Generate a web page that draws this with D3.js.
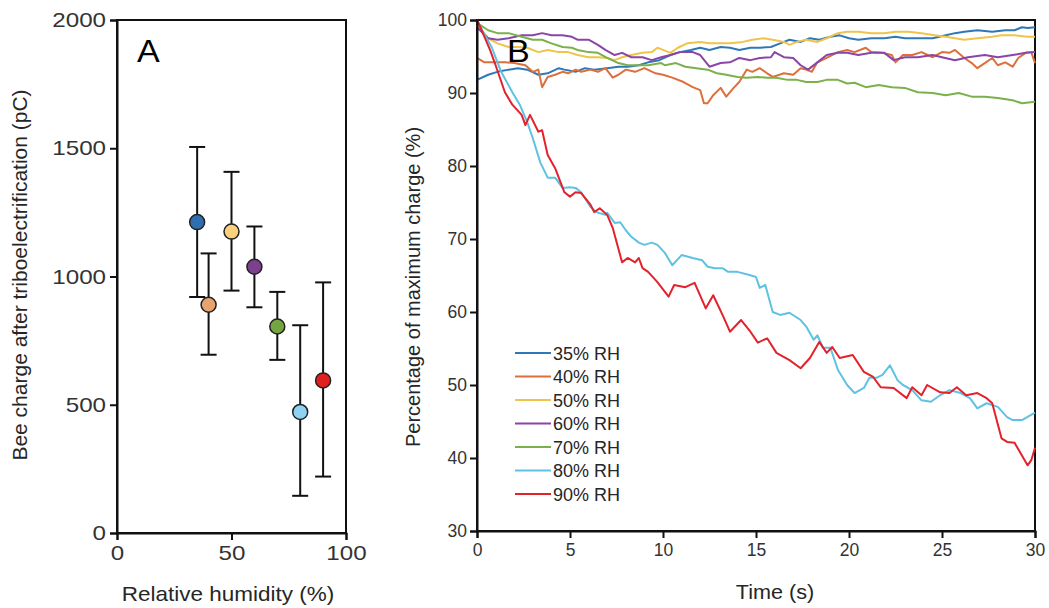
<!DOCTYPE html>
<html>
<head>
<meta charset="utf-8">
<script src="https://cdn.jsdelivr.net/npm/d3@7"></script>
<style>
  body { margin: 0; background: #fff; }
  text { font-family: "Liberation Sans", Arial, sans-serif; fill: #262626; }
  .axis path, .axis line { stroke: #111; stroke-width: 2; }
  .axis text { fill: #333; }
</style>
</head>
<body>
<div id="chart"></div>
<script>
// ---- panel A data ----
var humidity = [35, 40, 50, 60, 70, 80, 90];
var chargeMean = [1212, 890, 1175, 1038, 805, 472, 595];
var chargeUpper = [1505, 1090, 1408, 1195, 940, 810, 977];
var chargeLower = [920, 695, 945, 880, 675, 145, 220];
var pointColors = ["#2f6fb0", "#e8a46f", "#fbd27a", "#7d3f8f", "#75a542", "#8ed3ef", "#e01f1f"];

// ---- panel B data ----
var seriesNames = ["35% RH", "40% RH", "50% RH", "60% RH", "70% RH", "80% RH", "90% RH"];
var lineColors = ["#2e78b8", "#dd6f3b", "#f0c34a", "#8a45a6", "#7bb14a", "#5fc2e2", "#e3222b"];

var t35 = [0, 0.6, 1.1, 1.7, 2.2, 2.7, 3.3, 3.8, 4.4, 4.7, 5.3, 5.8, 6.3, 7.0, 7.6, 8.1, 8.7, 9.2, 9.8, 10.4, 10.9, 11.5, 12.0, 12.5, 13.1, 13.6, 14.1, 14.7, 15.2, 15.8, 16.3, 16.8, 17.4, 17.9, 18.4, 19.0, 19.5, 20.0, 20.5, 21.2, 21.9, 22.5, 23.0, 23.7, 24.5, 25.2, 25.7, 26.2, 26.9, 27.7, 28.4, 28.9, 29.3, 29.6, 30];
var v35 = [91.8, 92.5, 92.9, 93.2, 93.4, 93.2, 92.5, 92.7, 93.4, 93.2, 92.9, 93.4, 93.2, 93.4, 93.6, 93.6, 93.8, 94.2, 94.5, 95.2, 95.6, 95.9, 96.2, 95.9, 96.3, 96.2, 95.9, 96.2, 96.2, 96.3, 96.8, 97.3, 97.0, 97.5, 97.3, 97.7, 97.9, 97.5, 97.3, 97.5, 97.5, 97.7, 97.5, 97.5, 97.5, 97.9, 98.2, 98.4, 98.6, 98.4, 98.6, 98.6, 99.0, 98.9, 99.0];

var t40 = [0, 0.4, 1.0, 1.5, 2.0, 2.6, 3.0, 3.3, 3.5, 3.8, 4.2, 4.6, 4.9, 5.3, 5.6, 6.1, 6.5, 6.9, 7.3, 7.6, 8.0, 8.5, 9.0, 9.6, 10.0, 10.5, 11.1, 11.6, 12.0, 12.2, 12.4, 12.7, 13.1, 13.4, 13.8, 14.1, 14.5, 14.8, 15.2, 15.6, 15.9, 16.5, 17.0, 17.4, 17.7, 18.0, 18.3, 18.8, 19.4, 19.9, 20.3, 20.9, 21.2, 21.8, 22.3, 22.5, 22.9, 23.4, 23.9, 24.5, 25.0, 25.4, 25.7, 26.2, 26.6, 26.9, 27.3, 27.7, 28.0, 28.4, 28.8, 29.1, 29.5, 29.8, 30];
var v40 = [94.8, 94.2, 94.2, 94.2, 94.1, 93.8, 92.9, 93.2, 90.8, 92.2, 92.5, 92.9, 92.7, 93.2, 92.9, 93.2, 92.9, 93.4, 92.1, 92.5, 93.2, 92.9, 93.4, 92.7, 92.5, 92.1, 91.5, 90.8, 90.4, 88.6, 88.6, 89.7, 90.7, 89.5, 90.7, 91.5, 93.2, 92.9, 93.4, 92.7, 92.2, 92.7, 92.5, 93.4, 93.2, 92.9, 94.2, 94.8, 95.6, 95.9, 95.6, 96.2, 95.6, 95.5, 95.2, 94.2, 95.2, 95.2, 95.6, 94.9, 95.6, 95.5, 95.9, 94.8, 94.1, 93.4, 94.1, 94.8, 93.8, 94.2, 93.6, 94.8, 95.5, 95.6, 94.1];

var t50 = [0, 0.6, 1.1, 1.7, 2.2, 2.7, 3.3, 3.8, 4.4, 4.9, 5.4, 6.0, 6.5, 7.0, 7.4, 7.8, 8.3, 8.9, 9.4, 9.7, 10.0, 10.4, 10.8, 11.3, 12.0, 12.5, 13.1, 13.6, 14.3, 14.8, 15.4, 15.9, 16.5, 16.8, 17.2, 17.7, 18.3, 18.8, 19.4, 19.9, 20.5, 21.2, 21.9, 22.5, 23.2, 23.9, 24.6, 25.2, 25.7, 26.2, 26.9, 27.7, 28.2, 28.9, 29.6, 30];
var v50 = [99.3, 97.5, 96.8, 96.3, 96.3, 96.2, 95.6, 95.9, 95.6, 95.6, 95.2, 94.9, 94.9, 94.8, 94.5, 94.9, 95.2, 95.5, 95.6, 96.2, 95.9, 95.5, 96.2, 96.8, 97.0, 96.8, 96.8, 96.8, 97.0, 97.3, 97.5, 97.3, 97.0, 96.6, 97.0, 97.3, 97.0, 97.5, 98.2, 98.4, 98.4, 98.2, 98.2, 98.4, 98.4, 98.2, 97.9, 97.7, 97.5, 97.3, 97.5, 97.7, 97.9, 97.9, 97.7, 97.7];

var t60 = [0, 0.6, 1.1, 1.7, 2.4, 3.0, 3.5, 4.0, 4.6, 5.1, 5.4, 6.0, 6.5, 6.9, 7.4, 7.8, 8.3, 8.9, 9.4, 9.9, 10.4, 10.9, 11.6, 12.0, 12.5, 13.1, 13.6, 14.1, 14.7, 15.2, 15.8, 16.0, 16.5, 17.0, 17.4, 17.8, 18.3, 18.8, 19.4, 19.9, 20.5, 21.2, 21.9, 22.4, 23.0, 23.7, 24.5, 25.0, 25.7, 26.4, 27.3, 28.0, 28.8, 29.5, 30];
var v60 = [99.0, 97.5, 97.3, 97.5, 97.9, 97.9, 98.2, 97.9, 97.9, 97.7, 97.3, 97.3, 96.6, 95.9, 95.2, 95.5, 94.9, 94.9, 94.5, 94.9, 95.2, 95.6, 95.6, 95.2, 93.6, 94.1, 94.2, 94.8, 94.5, 94.8, 94.9, 95.6, 94.9, 94.8, 93.8, 93.2, 94.2, 95.2, 95.5, 95.5, 95.2, 95.5, 95.5, 94.5, 94.9, 94.9, 95.2, 94.9, 94.5, 94.9, 95.2, 94.9, 95.2, 95.5, 95.6];

var t70 = [0, 0.6, 1.1, 1.7, 2.4, 3.0, 3.5, 4.0, 4.6, 5.1, 5.4, 6.0, 6.5, 7.0, 7.6, 8.1, 8.7, 9.2, 9.9, 10.1, 10.7, 11.2, 11.8, 12.4, 12.9, 13.4, 14.0, 14.5, 15.1, 15.6, 16.1, 16.7, 17.2, 17.7, 18.3, 18.8, 19.4, 19.9, 20.3, 20.9, 21.6, 22.3, 23.0, 23.7, 24.5, 25.2, 25.9, 26.6, 27.3, 28.0, 28.8, 29.3, 30];
var v70 = [99.6, 98.6, 98.2, 98.2, 97.7, 97.3, 97.3, 96.8, 96.3, 96.2, 95.9, 95.6, 95.5, 94.8, 94.1, 93.8, 93.8, 93.8, 94.1, 93.8, 94.1, 93.6, 93.4, 93.2, 92.7, 92.5, 92.2, 92.1, 92.2, 92.1, 92.1, 91.8, 91.8, 91.5, 91.5, 91.8, 91.8, 91.3, 91.4, 90.8, 91.1, 90.8, 90.7, 90.1, 90.0, 89.7, 90.0, 89.5, 89.5, 89.3, 89.0, 88.6, 88.8];

var t80 = [0, 0.2, 0.8, 1.3, 1.9, 2.3, 2.7, 3.0, 3.4, 3.8, 4.2, 4.6, 5.0, 5.3, 5.6, 6.1, 6.4, 6.9, 7.0, 7.4, 7.7, 8.0, 8.3, 8.7, 9.0, 9.4, 9.7, 10.1, 10.5, 11.0, 11.6, 12.1, 12.4, 12.8, 13.2, 13.5, 14.0, 14.6, 15.0, 15.2, 15.5, 15.9, 16.3, 16.8, 17.4, 17.7, 18.1, 18.3, 18.6, 19.0, 19.4, 19.9, 20.3, 20.8, 21.1, 21.5, 21.8, 22.2, 22.6, 22.9, 23.4, 23.9, 24.4, 24.9, 25.4, 26.0, 26.5, 26.9, 27.4, 28.0, 28.5, 28.8, 29.3, 30];
var v80 = [100, 99.0, 96.2, 92.9, 90.1, 88.4, 86.0, 83.8, 80.5, 78.4, 78.4, 77.0, 77.1, 77.0, 76.4, 74.4, 73.7, 73.3, 73.6, 72.2, 72.3, 71.2, 70.3, 69.5, 69.2, 69.5, 69.2, 68.1, 66.4, 67.8, 67.4, 67.1, 66.2, 66.0, 66.0, 65.5, 65.5, 65.1, 64.8, 63.3, 63.7, 60.0, 59.6, 59.9, 58.9, 58.0, 56.2, 56.8, 55.1, 55.1, 52.1, 50.0, 48.9, 49.6, 51.0, 51.0, 51.4, 52.7, 50.7, 50.0, 49.3, 47.9, 47.7, 48.6, 49.3, 48.9, 48.2, 46.8, 47.5, 47.0, 45.6, 45.2, 45.2, 46.2];

var t90 = [0, 0.2, 0.7, 1.0, 1.5, 1.9, 2.4, 2.6, 2.85, 3.3, 3.5, 3.8, 4.2, 4.7, 5.0, 5.3, 5.6, 6.1, 6.3, 6.6, 7.0, 7.3, 7.8, 8.1, 8.5, 8.7, 8.9, 9.2, 9.7, 10.3, 10.6, 11.2, 11.7, 12.3, 12.7, 13.2, 13.6, 14.2, 14.7, 15.1, 15.6, 16.1, 16.8, 17.4, 17.9, 18.4, 18.8, 19.1, 19.5, 20.2, 20.8, 21.3, 21.7, 22.4, 23.1, 23.4, 23.9, 24.2, 24.9, 25.4, 25.8, 26.3, 26.9, 27.4, 27.7, 28.2, 28.5, 28.9, 29.6, 29.8, 30];
var v90 = [100, 98.9, 95.9, 93.8, 90.1, 88.4, 87.0, 85.6, 87.0, 84.7, 84.9, 81.5, 79.7, 76.4, 75.8, 76.4, 76.3, 74.7, 73.7, 74.2, 73.3, 71.5, 66.8, 67.4, 66.8, 67.4, 66.0, 65.5, 64.1, 62.1, 63.7, 63.4, 64.0, 60.5, 62.3, 59.6, 57.3, 58.9, 57.3, 55.8, 56.4, 54.4, 53.4, 52.3, 53.7, 55.9, 54.4, 55.2, 53.7, 54.1, 51.8, 51.1, 49.7, 49.6, 48.2, 49.7, 48.6, 50.0, 49.0, 48.9, 49.7, 48.6, 48.9, 48.2, 47.5, 42.7, 42.2, 42.1, 39.0, 39.7, 41.4];

var seriesTimes = [t35, t40, t50, t60, t70, t80, t90];
var seriesValues = [v35, v40, v50, v60, v70, v80, v90];

var ticksA_x = [0, 50, 100];
var ticksA_y = [0, 500, 1000, 1500, 2000];
var ticksB_x = [0, 5, 10, 15, 20, 25, 30];
var ticksB_y = [30, 40, 50, 60, 70, 80, 90, 100];

// widen text a bit, the source figure is drawn slightly stretched
function stretch(sel, f) {
    sel.each(function() {
        var len = this.getComputedTextLength();
        d3.select(this)
            .attr("textLength", len * f)
            .attr("lengthAdjust", "spacingAndGlyphs");
    });
}

function init() {
    var w = 1049;
    var h = 608;

    var svg = d3.select("#chart")
        .append("svg")
        .attr("width", w)
        .attr("height", h);

    // ===== Panel A =====
    var xA = d3.scaleLinear().domain([0, 100]).range([117, 346]);
    var yA = d3.scaleLinear().domain([0, 2000]).range([533, 20]);

    // frame
    svg.append("rect")
        .attr("x", xA(0)).attr("y", yA(2000))
        .attr("width", xA(100) - xA(0)).attr("height", yA(0) - yA(2000))
        .attr("fill", "none").attr("stroke", "#111").attr("stroke-width", 2);

    var axA_x = svg.append("g")
        .attr("class", "axis")
        .attr("transform", "translate(0," + yA(0) + ")")
        .call(d3.axisBottom(xA).tickValues(ticksA_x).tickFormat(d3.format("d")).tickSize(7).tickPadding(5));
    axA_x.selectAll("text").style("font-size", "21px");
    stretch(axA_x.selectAll("text"), 1.15);

    var axA_y = svg.append("g")
        .attr("class", "axis")
        .attr("transform", "translate(" + xA(0) + ",0)")
        .call(d3.axisLeft(yA).tickValues(ticksA_y).tickFormat(d3.format("d")).tickSize(7).tickPadding(4));
    axA_y.selectAll("text").style("font-size", "21px");
    stretch(axA_y.selectAll("text"), 1.15);

    // error bars
    var capW = 8;
    var gA = svg.append("g");
    humidity.forEach(function(hm, i) {
        gA.append("line")
            .attr("x1", xA(hm)).attr("x2", xA(hm))
            .attr("y1", yA(chargeUpper[i])).attr("y2", yA(chargeLower[i]))
            .attr("stroke", "#111").attr("stroke-width", 2);
        [chargeUpper[i], chargeLower[i]].forEach(function(v) {
            gA.append("line")
                .attr("x1", xA(hm) - capW).attr("x2", xA(hm) + capW)
                .attr("y1", yA(v)).attr("y2", yA(v))
                .attr("stroke", "#111").attr("stroke-width", 2);
        });
    });

    gA.selectAll("circle")
        .data(humidity)
        .enter().append("circle")
        .attr("cx", function(d) { return xA(d); })
        .attr("cy", function(d, i) { return yA(chargeMean[i]); })
        .attr("r", 7.5)
        .attr("fill", function(d, i) { return pointColors[i]; })
        .attr("stroke", "#222")
        .attr("stroke-width", 1.5);

    var labA = svg.append("text")
        .attr("x", 137).attr("y", 62)
        .style("font-size", "31px").style("fill", "#000")
        .text("A");
    stretch(labA, 1.1);

    svg.append("text")
        .attr("transform", "translate(27," + 275 + ") rotate(-90)")
        .attr("text-anchor", "middle")
        .style("font-size", "21px")
        .text("Bee charge after triboelectrification (pC)");

    var xtA = svg.append("text")
        .attr("x", 228).attr("y", 601)
        .attr("text-anchor", "middle")
        .style("font-size", "21px")
        .text("Relative humidity (%)");
    stretch(xtA, 1.07);

    // ===== Panel B =====
    var xB = d3.scaleLinear().domain([0, 30]).range([477, 1035]);
    var yB = d3.scaleLinear().domain([30, 100]).range([531, 20]);

    svg.append("rect")
        .attr("x", xB(0)).attr("y", yB(100))
        .attr("width", xB(30) - xB(0)).attr("height", yB(30) - yB(100))
        .attr("fill", "none").attr("stroke", "#111").attr("stroke-width", 2);

    var line = d3.line()
        .x(function(d) { return xB(d[0]); })
        .y(function(d) { return yB(d[1]); });

    var gB = svg.append("g");
    seriesNames.forEach(function(name, i) {
        var pts = d3.zip(seriesTimes[i], seriesValues[i]);
        gB.append("path")
            .datum(pts)
            .attr("d", line)
            .attr("fill", "none")
            .attr("stroke", lineColors[i])
            .attr("stroke-width", 2)
            .attr("stroke-linejoin", "round");
    });

    svg.append("g")
        .attr("class", "axis")
        .attr("transform", "translate(0," + yB(30) + ")")
        .call(d3.axisBottom(xB).tickValues(ticksB_x).tickSize(7).tickPadding(6))
        .selectAll("text").style("font-size", "17.5px");

    svg.append("g")
        .attr("class", "axis")
        .attr("transform", "translate(" + xB(0) + ",0)")
        .call(d3.axisLeft(yB).tickValues(ticksB_y).tickSize(7).tickPadding(3))
        .selectAll("text").style("font-size", "17.5px");

    var labB = svg.append("text")
        .attr("x", 507).attr("y", 62)
        .style("font-size", "31px").style("fill", "#000")
        .text("B");
    stretch(labB, 1.1);

    svg.append("text")
        .attr("transform", "translate(420," + 287 + ") rotate(-90)")
        .attr("text-anchor", "middle")
        .style("font-size", "20px")
        .text("Percentage of maximum charge (%)");

    var xtB = svg.append("text")
        .attr("x", 775).attr("y", 599)
        .attr("text-anchor", "middle")
        .style("font-size", "20px")
        .text("Time (s)");
    stretch(xtB, 1.08);

    // legend
    var legend = svg.append("g");
    seriesNames.forEach(function(name, i) {
        var ly = 353 + i * 23.5;
        legend.append("line")
            .attr("x1", 515).attr("x2", 551)
            .attr("y1", ly).attr("y2", ly)
            .attr("stroke", lineColors[i]).attr("stroke-width", 2);
        legend.append("text")
            .attr("x", 553).attr("y", ly + 6.5)
            .style("font-size", "18px")
            .text(name);
    });
}
window.onload = init;
</script>
</body>
</html>
